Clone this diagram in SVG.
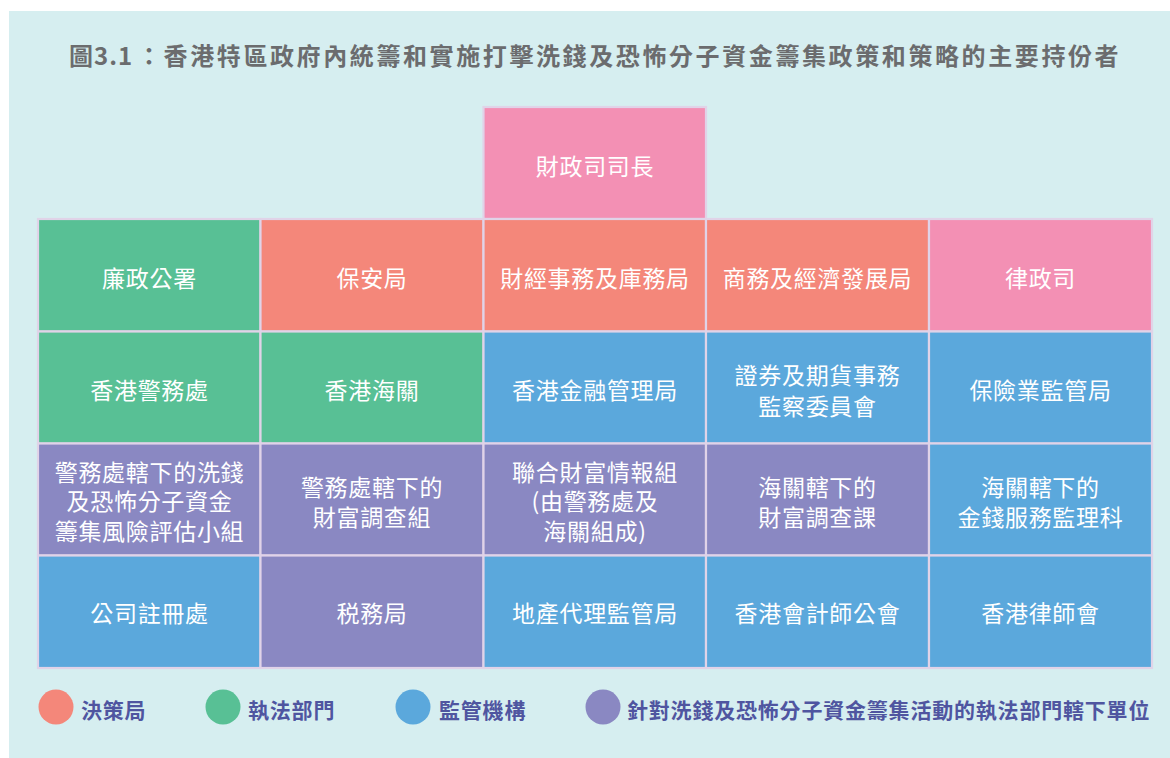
<svg xmlns="http://www.w3.org/2000/svg" width="1170" height="758" viewBox="0 0 1170 758">
<style>
.c{stroke:#e0d3e8;stroke-width:2.2}
.g{fill:#58c095}.s{fill:#f4877a}.p{fill:#f390b4}.b{fill:#5ba8dc}.v{fill:#8a88c2}
.t{font-family:"Noto Sans CJK TC","Noto Sans CJK SC",sans-serif;font-size:23px;fill:#ffffff;text-anchor:middle;letter-spacing:0.7px}
.lg{font-family:"Noto Sans CJK TC","Noto Sans CJK SC",sans-serif;font-size:21px;font-weight:bold;fill:#4f55a0;letter-spacing:0.8px}
.title{font-family:"Noto Sans CJK TC","Noto Sans CJK SC",sans-serif;font-size:24px;font-weight:bold;fill:#6b6c6e}
</style>
<rect width="1170" height="758" fill="#ffffff"/>
<rect x="9" y="11" width="1161" height="747" fill="#d6eef0"/>
<text class="title" y="65"><tspan x="69" letter-spacing="1">圖3.1</tspan><tspan x="137" letter-spacing="2.6">：香港特區政府內統籌和實施打擊洗錢及恐怖分子資金籌集政策和策略的主要持份者</tspan></text>

<g id="n-fs"><rect class="c p" x="483.5" y="107" width="222.5" height="112"/><text class="t" x="595" y="174.5">財政司司長</text></g>

<g id="n-icac"><rect class="c g" x="38" y="219" width="222.5" height="112.5"/><text class="t" x="149.5" y="286.5">廉政公署</text></g>
<g id="n-sb"><rect class="c s" x="260.5" y="219" width="223" height="112.5"/><text class="t" x="372" y="286.5">保安局</text></g>
<g id="n-fstb"><rect class="c s" x="483.5" y="219" width="222.5" height="112.5"/><text class="t" x="595" y="286.5">財經事務及庫務局</text></g>
<g id="n-cedb"><rect class="c s" x="706" y="219" width="223" height="112.5"/><text class="t" x="817.5" y="286.5">商務及經濟發展局</text></g>
<g id="n-doj"><rect class="c p" x="929" y="219" width="223" height="112.5"/><text class="t" x="1040.5" y="286.5">律政司</text></g>

<g id="n-hkpf"><rect class="c g" x="38" y="331.5" width="222.5" height="112"/><text class="t" x="149.5" y="398.5">香港警務處</text></g>
<g id="n-cus"><rect class="c g" x="260.5" y="331.5" width="223" height="112"/><text class="t" x="372" y="398.5">香港海關</text></g>
<g id="n-hkma"><rect class="c b" x="483.5" y="331.5" width="222.5" height="112"/><text class="t" x="595" y="398.5">香港金融管理局</text></g>
<g id="n-sfc"><rect class="c b" x="706" y="331.5" width="223" height="112"/><text class="t" x="817.5" y="383.5">證券及期貨事務</text><text class="t" x="817.5" y="414.5">監察委員會</text></g>
<g id="n-ia"><rect class="c b" x="929" y="331.5" width="223" height="112"/><text class="t" x="1040.5" y="398.5">保險業監管局</text></g>

<g id="n-risk"><rect class="c v" x="38" y="443.5" width="222.5" height="112"/><text class="t" x="149.5" y="480.5">警務處轄下的洗錢</text><text class="t" x="149.5" y="510">及恐怖分子資金</text><text class="t" x="149.5" y="539.5">籌集風險評估小組</text></g>
<g id="n-pfib"><rect class="c v" x="260.5" y="443.5" width="223" height="112"/><text class="t" x="372" y="496">警務處轄下的</text><text class="t" x="372" y="526">財富調查組</text></g>
<g id="n-jfiu"><rect class="c v" x="483.5" y="443.5" width="222.5" height="112"/><text class="t" x="595" y="480.5">聯合財富情報組</text><text class="t" x="595" y="510">(由警務處及</text><text class="t" x="595" y="539.5">海關組成)</text></g>
<g id="n-cfig"><rect class="c v" x="706" y="443.5" width="223" height="112"/><text class="t" x="817.5" y="496">海關轄下的</text><text class="t" x="817.5" y="526">財富調查課</text></g>
<g id="n-msu"><rect class="c b" x="929" y="443.5" width="223" height="112"/><text class="t" x="1040.5" y="496">海關轄下的</text><text class="t" x="1040.5" y="526">金錢服務監理科</text></g>

<g id="n-cr"><rect class="c b" x="38" y="555.5" width="222.5" height="112.5"/><text class="t" x="149.5" y="622">公司註冊處</text></g>
<g id="n-ird"><rect class="c v" x="260.5" y="555.5" width="223" height="112.5"/><text class="t" x="372" y="622">税務局</text></g>
<g id="n-eaa"><rect class="c b" x="483.5" y="555.5" width="222.5" height="112.5"/><text class="t" x="595" y="622">地產代理監管局</text></g>
<g id="n-hkicpa"><rect class="c b" x="706" y="555.5" width="223" height="112.5"/><text class="t" x="817.5" y="622">香港會計師公會</text></g>
<g id="n-lawsoc"><rect class="c b" x="929" y="555.5" width="223" height="112.5"/><text class="t" x="1040.5" y="622">香港律師會</text></g>

<g id="connectors"></g>

<g id="legend">
<circle cx="56" cy="707" r="17.5" fill="#f4877a"/><text class="lg" x="81" y="718">決策局</text>
<circle cx="223" cy="707" r="17.5" fill="#58c095"/><text class="lg" x="248" y="718">執法部門</text>
<circle cx="413" cy="707" r="17.5" fill="#5ba8dc"/><text class="lg" x="439" y="718">監管機構</text>
<circle cx="603" cy="707" r="17.5" fill="#8a88c2"/><text class="lg" x="627" y="718">針對洗錢及恐怖分子資金籌集活動的執法部門轄下單位</text>
</g>
</svg>
